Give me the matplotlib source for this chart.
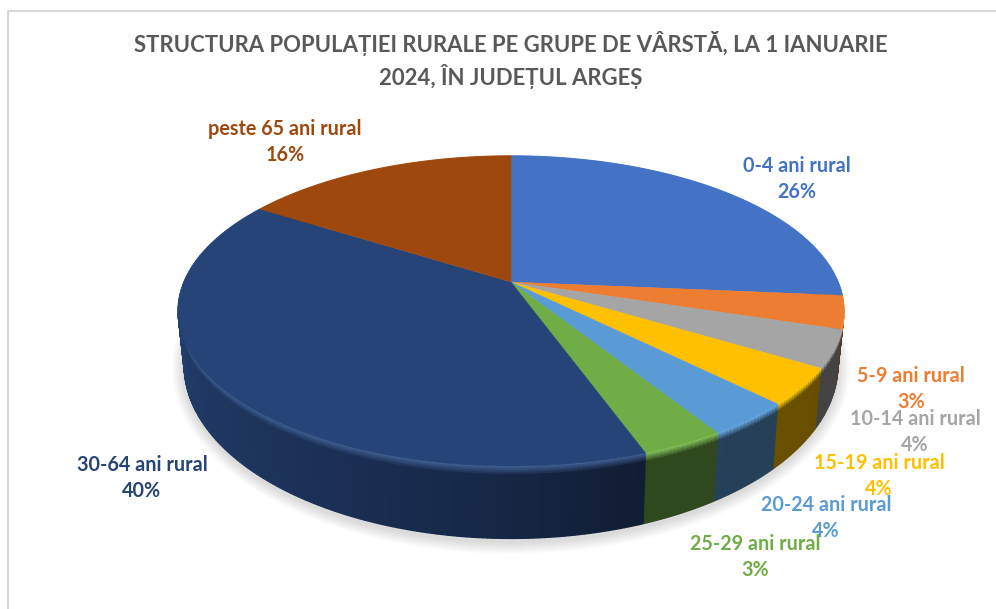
import numpy as np
import matplotlib
matplotlib.use("Agg")
import matplotlib.pyplot as plt
from matplotlib.collections import PolyCollection
from matplotlib.colors import to_rgb
from matplotlib.patches import Ellipse, Polygon

plt.rcParams['font.family'] = ['Lato', 'Open Sans', 'DejaVu Sans']

# Data, clockwise from 12 o'clock
categories = ["0-4 ani rural", "5-9 ani rural", "10-14 ani rural", "15-19 ani rural",
              "20-24 ani rural", "25-29 ani rural", "30-64 ani rural", "peste 65 ani rural"]
shares = [26.4, 3.45, 3.85, 3.8, 3.6, 3.4, 39.5, 16.0]
colors = ["#4472C4", "#ED7D31", "#A5A5A5", "#FFC000", "#5B9BD5", "#70AD47", "#264478", "#9E480E"]
title = "STRUCTURA POPULAȚIEI RURALE PE GRUPE DE VÂRSTĂ, LA 1 IANUARIE\n2024, ÎN JUDEȚUL ARGEȘ"

# where the data labels sit, in pixels
label_pos = [(797, 179), (911, 389), (915, 432), (879, 476), (826, 518), (755, 557), (142, 478), (285, 142)]

W, H = 996, 609
CX = 511
P = 0.187  # perspective


def project(theta, w, h, y0):
    # theta in degrees clockwise from the back of the pie
    t = np.radians(theta)
    d = 1 + P * np.cos(t)
    return np.column_stack([CX + w * np.sin(t) / d, y0 - h * np.cos(t) / d])


def top_rim(theta):
    return project(theta, 327, 149.6, 282)


def bottom_rim(theta):
    return project(theta, 321, 167, 333)


def side_shade(theta):
    return np.interp(theta, [90, 160, 182, 230, 270], [0.4, 0.42, 0.58, 0.8, 0.92])


fig = plt.figure(figsize=(W / 100, H / 100), dpi=100)
ax = fig.add_axes([0, 0, 1, 1])
ax.set_xlim(0, W)
ax.set_ylim(H, 0)
ax.axis("off")

# chart frame
ax.plot([8, 8, W], [H, 11, 11], color="#D9D9D9", lw=1.5, zorder=1)

# soft shadow under the pie
for k in range(12):
    ax.add_patch(Ellipse((CX, 368), 2 * (328 + k), 2 * (175 + k), color="black", alpha=0.012, lw=0, zorder=2))

edges = np.concatenate([[0], np.cumsum(shares)]) * 3.6

# side wall, with the bevel under the rim
bevel = np.array([0, 0.03, 0.06, 0.09, 0.12, 1.0])
for i in range(len(shares)):
    base = np.array(to_rgb(colors[i]))
    lum = base.mean()
    rim_col = np.clip(base + (1 - lum) * 0.14, 0, 1)
    th = np.linspace(edges[i], edges[i + 1], int((edges[i + 1] - edges[i]) / 0.75) + 2)
    quads, quad_cols = [], []
    for a, b in zip(th[:-1], th[1:]):
        pair = np.array([a, b])
        top, bot = top_rim(pair), bottom_rim(pair)
        side = base * side_shade((a + b) / 2)
        for j in range(len(bevel) - 1):
            p0 = top + (bot - top) * bevel[j]
            p1 = top + (bot - top) * bevel[j + 1]
            quads.append([p0[0], p0[1], p1[1], p1[0]])
            f = min(j / 4, 1)
            quad_cols.append(rim_col * (1 - f) + side * f)
    ax.add_collection(PolyCollection(quads, facecolors=quad_cols, edgecolors=quad_cols, linewidths=1.0,
                                     joinstyle="bevel", zorder=3))

# top face
apex = [[CX, 282]]
for i in range(len(shares)):
    th = np.linspace(edges[i], edges[i + 1], 120)
    ax.add_patch(Polygon(np.vstack([apex, top_rim(th)]), closed=True, facecolor=colors[i],
                         edgecolor=colors[i], lw=0.3, zorder=4))

ax.text(CX, 60, title, ha="center", va="center", fontsize=15.9, fontweight="bold", color="#595959",
        linespacing=1.34, zorder=5)

for i in range(len(shares)):
    ax.text(label_pos[i][0], label_pos[i][1], "{}\n{:.0f}%".format(categories[i], round(shares[i])),
            ha="center", va="center", fontsize=14.2, fontweight="bold", color=colors[i], linespacing=1.38, zorder=6)

fig.savefig("out.png", dpi=100)
